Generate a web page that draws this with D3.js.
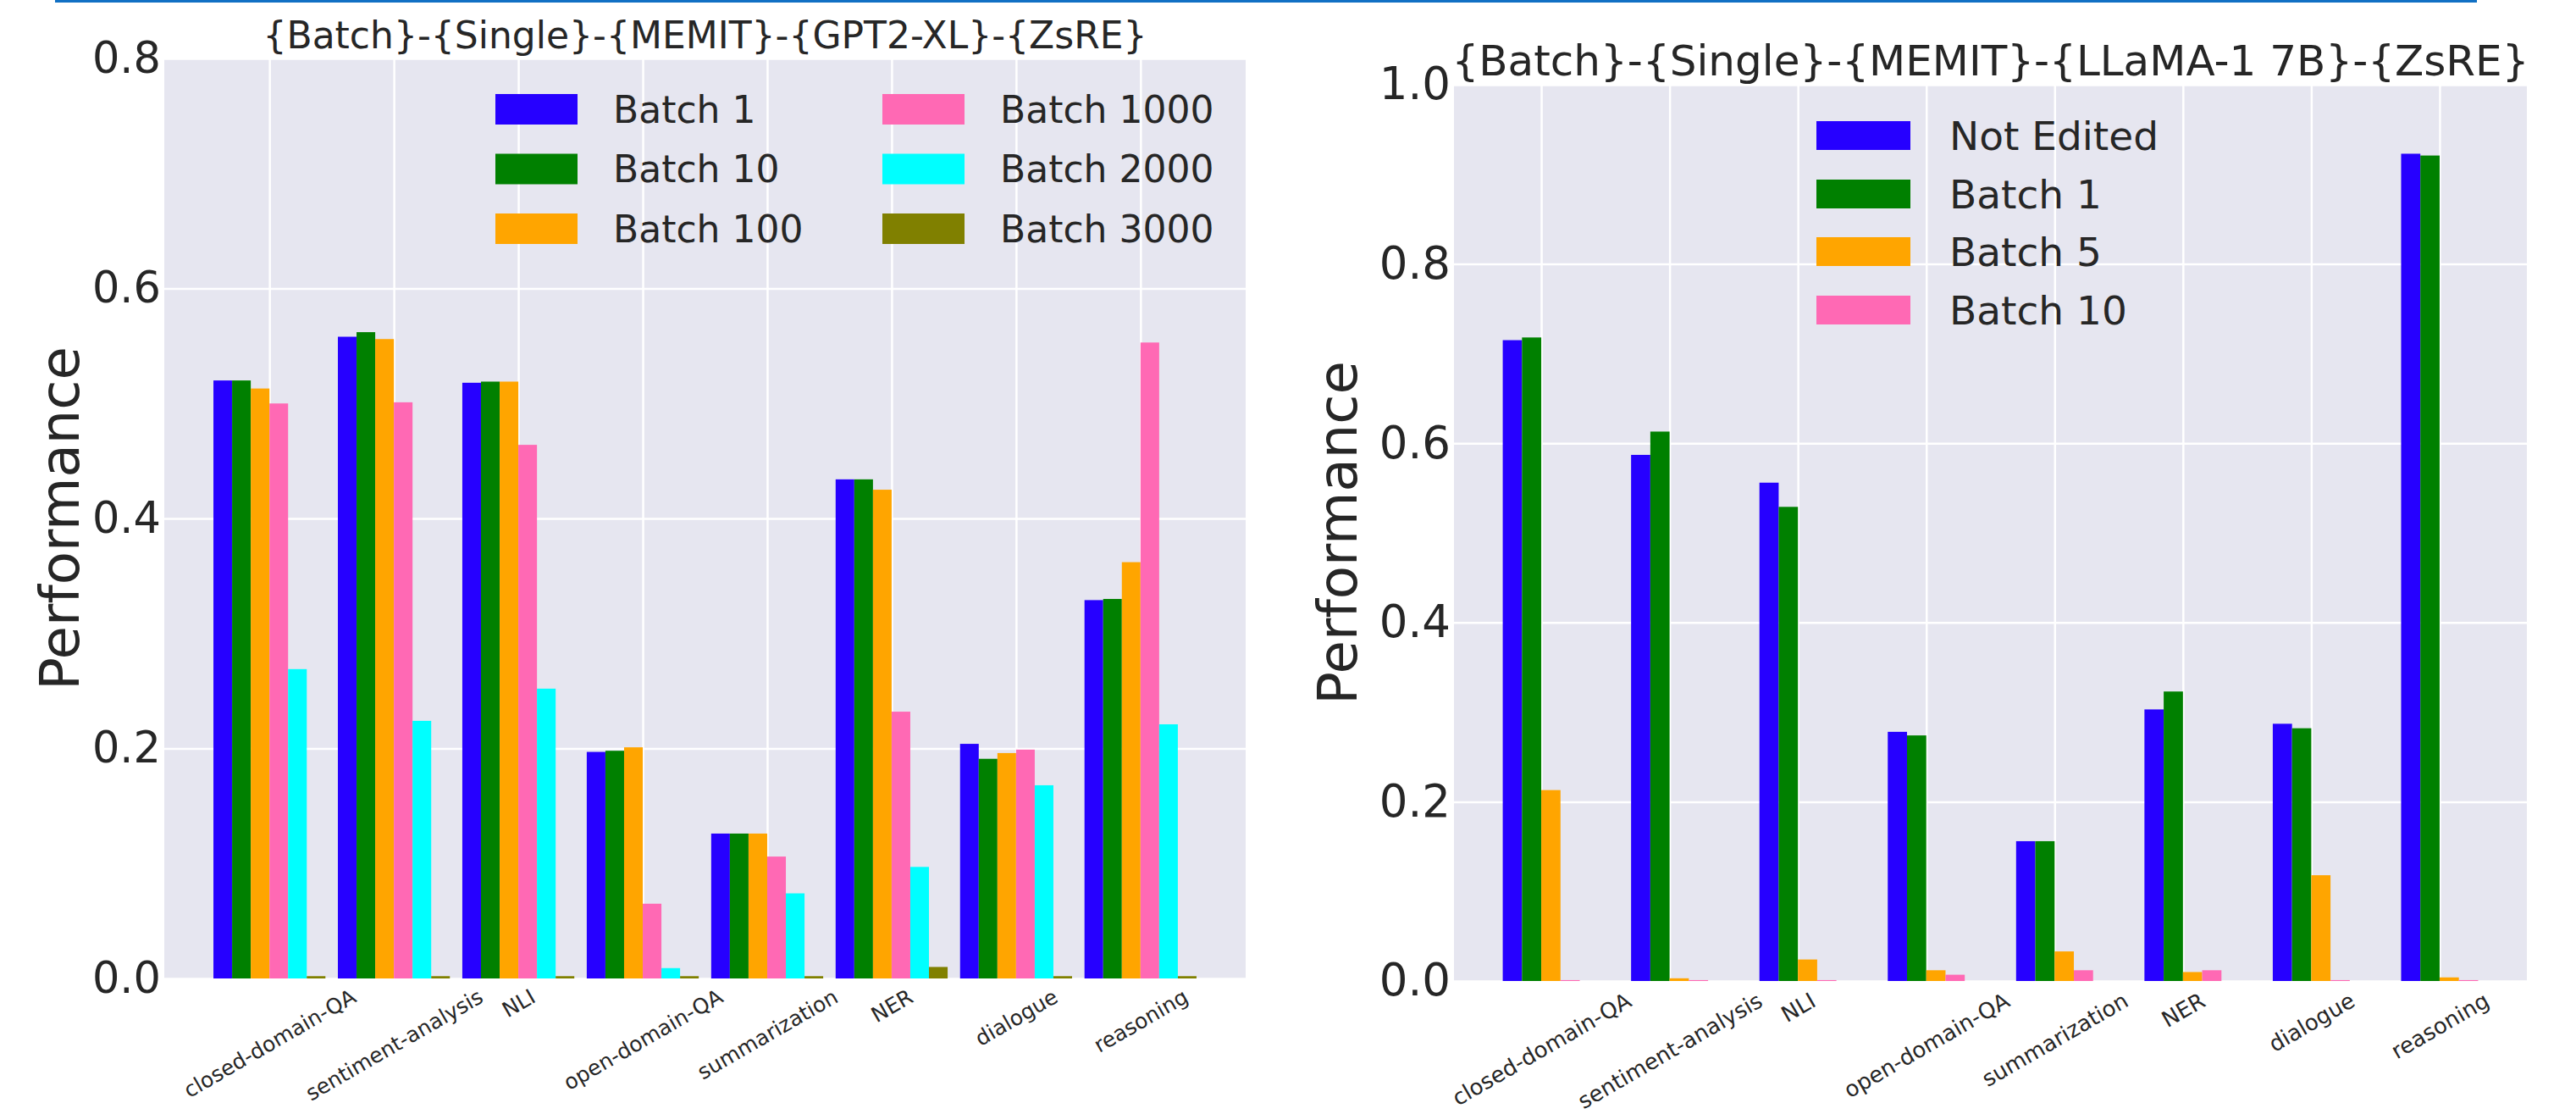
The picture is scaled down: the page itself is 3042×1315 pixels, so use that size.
<!DOCTYPE html>
<html><head><meta charset="utf-8">
<script src="https://cdn.jsdelivr.net/npm/d3@7"></script>
<style>
body{margin:0;background:#fff;}
svg text{font-family:"DejaVu Sans",sans-serif;fill:#262626;}
</style></head><body>
<svg id="c" width="3042" height="1315"></svg>
<script>
const categories = ["closed-domain-QA","sentiment-analysis","NLI","open-domain-QA","summarization","NER","dialogue","reasoning"];

// Left chart: GPT2-XL
const gptSeries = ["Batch 1","Batch 10","Batch 100","Batch 1000","Batch 2000","Batch 3000"];
const gptBatch1    = [0.520,0.558,0.518,0.197,0.126,0.434,0.204,0.329];
const gptBatch10   = [0.520,0.562,0.519,0.198,0.126,0.434,0.191,0.330];
const gptBatch100  = [0.513,0.556,0.519,0.201,0.126,0.425,0.196,0.362];
const gptBatch1000 = [0.500,0.501,0.464,0.065,0.106,0.232,0.199,0.553];
const gptBatch2000 = [0.269,0.224,0.252,0.009,0.074,0.097,0.168,0.221];
const gptBatch3000 = [0.002,0.002,0.002,0.002,0.002,0.010,0.002,0.002];
const gptTicks = [0.0,0.2,0.4,0.6,0.8];
const gptTitle = "{Batch}-{Single}-{MEMIT}-{GPT2-XL}-{ZsRE}";

// Right chart: LLaMA-1 7B
const llamaSeries = ["Not Edited","Batch 1","Batch 5","Batch 10"];
const llamaNotEdited = [0.715,0.587,0.556,0.278,0.156,0.303,0.287,0.923];
const llamaBatch1    = [0.718,0.613,0.529,0.274,0.156,0.323,0.282,0.921];
const llamaBatch5    = [0.213,0.003,0.024,0.012,0.033,0.010,0.118,0.004];
const llamaBatch10   = [0.001,0.001,0.001,0.007,0.012,0.012,0.001,0.001];
const llamaTicks = [0.0,0.2,0.4,0.6,0.8,1.0];
const llamaTitle = "{Batch}-{Single}-{MEMIT}-{LLaMA-1 7B}-{ZsRE}";

const yLabel = "Performance";
const gptColors = ["#2600ff","#008000","#ffa500","#ff69b4","#00ffff","#808000"];
const llamaColors = ["#2600ff","#008000","#ffa500","#ff69b4"];

const svg = d3.select("#c");

// page artifact line at the top
svg.append("rect").attr("x",65).attr("y",0).attr("width",2860).attr("height",3).attr("fill","#1170c4");

function drawChart(cfg){
  const g = svg.append("g");
  const x = d3.scaleLinear().domain(cfg.xdom).range([cfg.left, cfg.right]);
  const y = d3.scaleLinear().domain([0, cfg.ymax]).range([cfg.bottom, cfg.top]);
  const W = cfg.right - cfg.left, H = cfg.bottom - cfg.top;
  g.append("rect").attr("x",cfg.left).attr("y",cfg.top).attr("width",W).attr("height",H).attr("fill","#e6e6f0");

  // grids
  const gy = g.append("g").attr("transform",`translate(${cfg.left},0)`)
    .call(d3.axisLeft(y).tickValues(cfg.ticks).tickSize(-W).tickFormat(""));
  gy.select(".domain").remove();
  gy.selectAll("line").attr("stroke","#ffffff").attr("stroke-width",2.5);
  const gx = g.append("g").attr("transform",`translate(0,${cfg.bottom})`)
    .call(d3.axisBottom(x).tickValues(d3.range(categories.length)).tickSize(-H).tickFormat(""));
  gx.select(".domain").remove();
  gx.selectAll("line").attr("stroke","#ffffff").attr("stroke-width",2.5);

  // bars
  const n = cfg.series.length, bw = 0.15;
  cfg.values.forEach((vals, k) => {
    g.append("g").selectAll("rect").data(vals).join("rect")
      .attr("x", (d,i) => x(i + (k - (n-1)/2)*bw - bw/2))
      .attr("width", x(bw) - x(0))
      .attr("y", d => y(d))
      .attr("height", d => y(0) - y(d))
      .attr("fill", cfg.colors[k]);
  });

  // y axis labels
  const ay = g.append("g").attr("transform",`translate(${cfg.left},0)`)
    .call(d3.axisLeft(y).tickValues(cfg.ticks).tickSize(0).tickPadding(4).tickFormat(d3.format(".1f")));
  ay.select(".domain").remove();
  ay.selectAll("text").attr("font-size",cfg.tickFs).attr("fill","#262626");

  // x axis labels (rotated 30deg, centred on tick, top aligned)
  const ax = g.append("g").attr("transform",`translate(0,${cfg.bottom})`)
    .call(d3.axisBottom(x).tickValues(d3.range(categories.length)).tickSize(0).tickFormat(i => categories[i]));
  ax.select(".domain").remove();
  const th = 30*Math.PI/180;
  ax.selectAll("text").attr("font-size",cfg.xFs).attr("fill","#262626")
    .attr("text-anchor","middle").attr("dominant-baseline","central")
    .attr("x",0).attr("y",0).attr("dy",null)
    .each(function(){
      const L = this.getComputedTextLength();
      const h = cfg.xFs*1.05;
      const cy = cfg.xPad + (L*Math.sin(th) + h*Math.cos(th))/2;
      d3.select(this).attr("transform",`translate(0,${cy}) rotate(-30)`);
    });

  // title
  g.append("text").attr("x",(cfg.left+cfg.right)/2).attr("y",cfg.titleY)
    .attr("text-anchor","middle").attr("font-size",cfg.titleFs).text(cfg.title);

  // y label
  g.append("text").attr("transform",`translate(${cfg.ylabX},${(cfg.top+cfg.bottom)/2}) rotate(-90)`)
    .attr("text-anchor","middle").attr("dominant-baseline","central")
    .attr("font-size",cfg.ylabFs).text(yLabel);

  // legend
  const L = cfg.legend;
  cfg.series.forEach((s,k) => {
    const col = Math.floor(k / L.rows), row = k % L.rows;
    const lx = L.x[col], ly = L.rowY[row];
    g.append("rect").attr("x",lx).attr("y",ly - L.sh/2).attr("width",L.sw).attr("height",L.sh)
      .attr("fill",cfg.colors[k]);
    g.append("text").attr("x",lx + L.tx).attr("y",ly).attr("dominant-baseline","central")
      .attr("font-size",L.fs).text(s);
  });
}

drawChart({
  left:194, right:1471, top:69, bottom:1155, ymax:0.8, xdom:[-0.845,7.845],
  ticks:gptTicks, series:gptSeries, colors:gptColors,
  values:[gptBatch1,gptBatch10,gptBatch100,gptBatch1000,gptBatch2000,gptBatch3000],
  tickFs:51, xFs:25, xPad:8, title:gptTitle, titleFs:44, titleY:57, ylabX:71, ylabFs:64,
  legend:{x:[585,1042], rows:3, rowY:[129,199.5,270], sw:97, sh:36, tx:139, fs:44}
});

drawChart({
  left:1717, right:2984, top:100, bottom:1158, ymax:1.0, xdom:[-0.68,7.68],
  ticks:llamaTicks, series:llamaSeries, colors:llamaColors,
  values:[llamaNotEdited,llamaBatch1,llamaBatch5,llamaBatch10],
  tickFs:53, xFs:26, xPad:9, title:llamaTitle, titleFs:50, titleY:89, ylabX:1580, ylabFs:64,
  legend:{x:[2145], rows:4, rowY:[160,229,297,366], sw:111, sh:34, tx:157, fs:47}
});
</script>
</body></html>
